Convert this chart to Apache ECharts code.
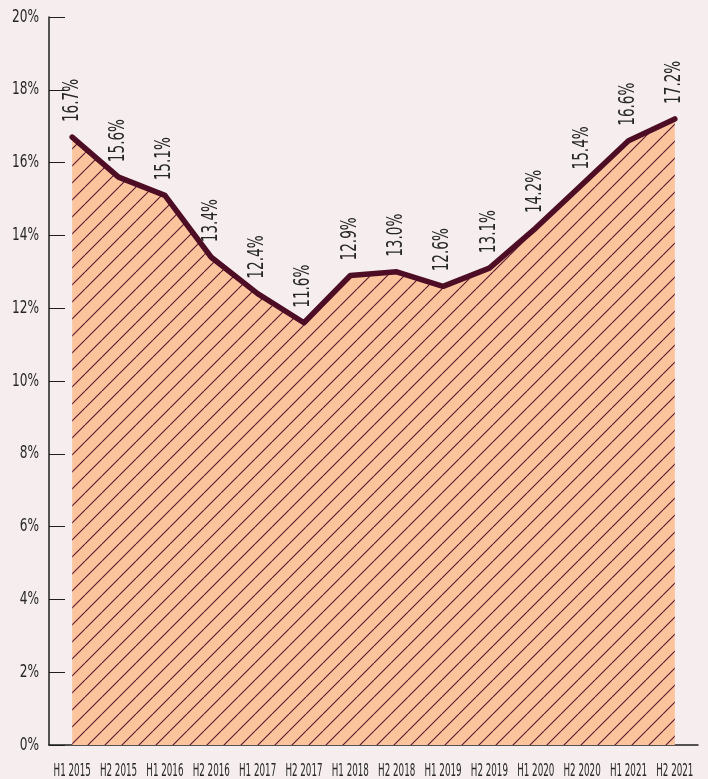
<!DOCTYPE html>
<html>
<head>
<meta charset="utf-8">
<script src="https://cdn.jsdelivr.net/npm/echarts@6/dist/echarts.min.js"></script>
<style>
  html, body { margin: 0; padding: 0; background: #f6eeee; }
  #chart { width: 708px; height: 779px; }
</style>
</head>
<body>
<div id="chart"></div>
<script>
// Half-year periods and share values (%)
const periods = ['H1 2015', 'H2 2015', 'H1 2016', 'H2 2016', 'H1 2017', 'H2 2017', 'H1 2018',
                 'H2 2018', 'H1 2019', 'H2 2019', 'H1 2020', 'H2 2020', 'H1 2021', 'H2 2021'];
const shares = [16.7, 15.6, 15.1, 13.4, 12.4, 11.6, 12.9, 13.0, 12.6, 13.1, 14.2, 15.4, 16.6, 17.2];
const yTicks = [0, 2, 4, 6, 8, 10, 12, 14, 16, 18, 20];

// Use the narrowest installed face available
function pickFont(candidates) {
  const g = document.createElement('canvas').getContext('2d');
  const sample = 'H1 2015 16.7% abcdefghijklm';
  for (const name of candidates) {
    let differs = false;
    for (const base of ['monospace', 'serif']) {
      g.font = '40px ' + base;
      const w0 = g.measureText(sample).width;
      g.font = '40px "' + name + '", ' + base;
      if (g.measureText(sample).width !== w0) differs = true;
    }
    if (differs) return '"' + name + '"';
  }
  return 'sans-serif';
}
const FONT = pickFont(['Liberation Sans Narrow', 'DejaVu Sans Condensed', 'Roboto Condensed',
                       'Open Sans Condensed', 'Noto Sans Condensed', 'Roboto']);
const INK = '#4d0e25';
const TEXT = '#262626';

// Hatched peach fill: diagonal lines on a repeating tile
function hatchTile(size) {
  const c = document.createElement('canvas');
  c.width = size; c.height = size;
  const g = c.getContext('2d');
  g.fillStyle = '#fcc49c';
  g.fillRect(0, 0, size, size);
  g.strokeStyle = '#5a1830';
  g.lineWidth = 1.1;
  g.beginPath();
  for (let k = -1; k <= 1; k++) {
    g.moveTo(k * size, size);
    g.lineTo(k * size + size, 0);
  }
  g.stroke();
  return c;
}

// Horizontally squeezed text, giving the tall condensed lettering
function squeezed(x, y, text, size, squeeze, align, vAlign, rotation) {
  return {
    type: 'text', x: x, y: y, rotation: rotation || 0, scaleX: squeeze, silent: true,
    style: { text: text, x: 0, y: 0, fill: TEXT, font: size + 'px ' + FONT,
             align: align, verticalAlign: vAlign }
  };
}

const chart = echarts.init(document.getElementById('chart'), null, { renderer: 'canvas' });
chart.setOption({
  backgroundColor: '#f6eeee',
  animation: false,
  grid: { left: 49, right: 10, top: 17, bottom: 34, containLabel: false },
  xAxis: {
    type: 'category',
    data: periods,
    boundaryGap: true,
    axisLine: { lineStyle: { color: '#1e1e1e', width: 1.5 } },
    axisTick: { inside: true, length: 17, lineStyle: { color: '#1e1e1e' } },
    axisLabel: { show: false },
    splitLine: { show: false }
  },
  yAxis: {
    type: 'value',
    min: yTicks[0],
    max: yTicks[yTicks.length - 1],
    interval: 2,
    axisLine: { show: true, lineStyle: { color: '#1e1e1e', width: 1.5 } },
    axisTick: { show: true, inside: true, length: 16, lineStyle: { color: '#1e1e1e' } },
    axisLabel: { show: false },
    splitLine: { show: false }
  },
  series: [
    {
      type: 'line',
      data: shares,
      symbol: 'none',
      lineStyle: { color: INK, width: 5.5, cap: 'round', join: 'round' },
      areaStyle: { color: { image: hatchTile(17), repeat: 'repeat' }, opacity: 1 }
    },
    {
      // period names under the axis
      type: 'custom',
      clip: false,
      silent: true,
      z: 5,
      data: periods.map((p, i) => [i, 0]),
      encode: { x: 0, y: 1 },
      renderItem: (params, api) => {
        const pt = api.coord([api.value(0), 0]);
        return squeezed(pt[0], pt[1] + 17, periods[params.dataIndex], 18, 0.54, 'center', 'top');
      }
    },
    {
      // percentage ticks left of the value axis
      type: 'custom',
      clip: false,
      silent: true,
      z: 5,
      data: yTicks.map(v => [0, v]),
      encode: { x: 0, y: 1 },
      renderItem: (params, api) => {
        const pt = api.coord([0, api.value(1)]);
        return squeezed(params.coordSys.x - 10, pt[1], api.value(1) + '%', 18, 0.75, 'right', 'middle');
      }
    },
    {
      // value readouts standing above each point
      type: 'custom',
      clip: false,
      silent: true,
      z: 5,
      data: shares.map((v, i) => [i, v]),
      encode: { x: 0, y: 1 },
      renderItem: (params, api) => {
        const pt = api.coord([api.value(0), api.value(1)]);
        return squeezed(pt[0], pt[1] - 15, api.value(1).toFixed(1) + '%', 21, 0.72,
                        'left', 'middle', Math.PI / 2);
      }
    }
  ]
});
</script>
</body>
</html>
